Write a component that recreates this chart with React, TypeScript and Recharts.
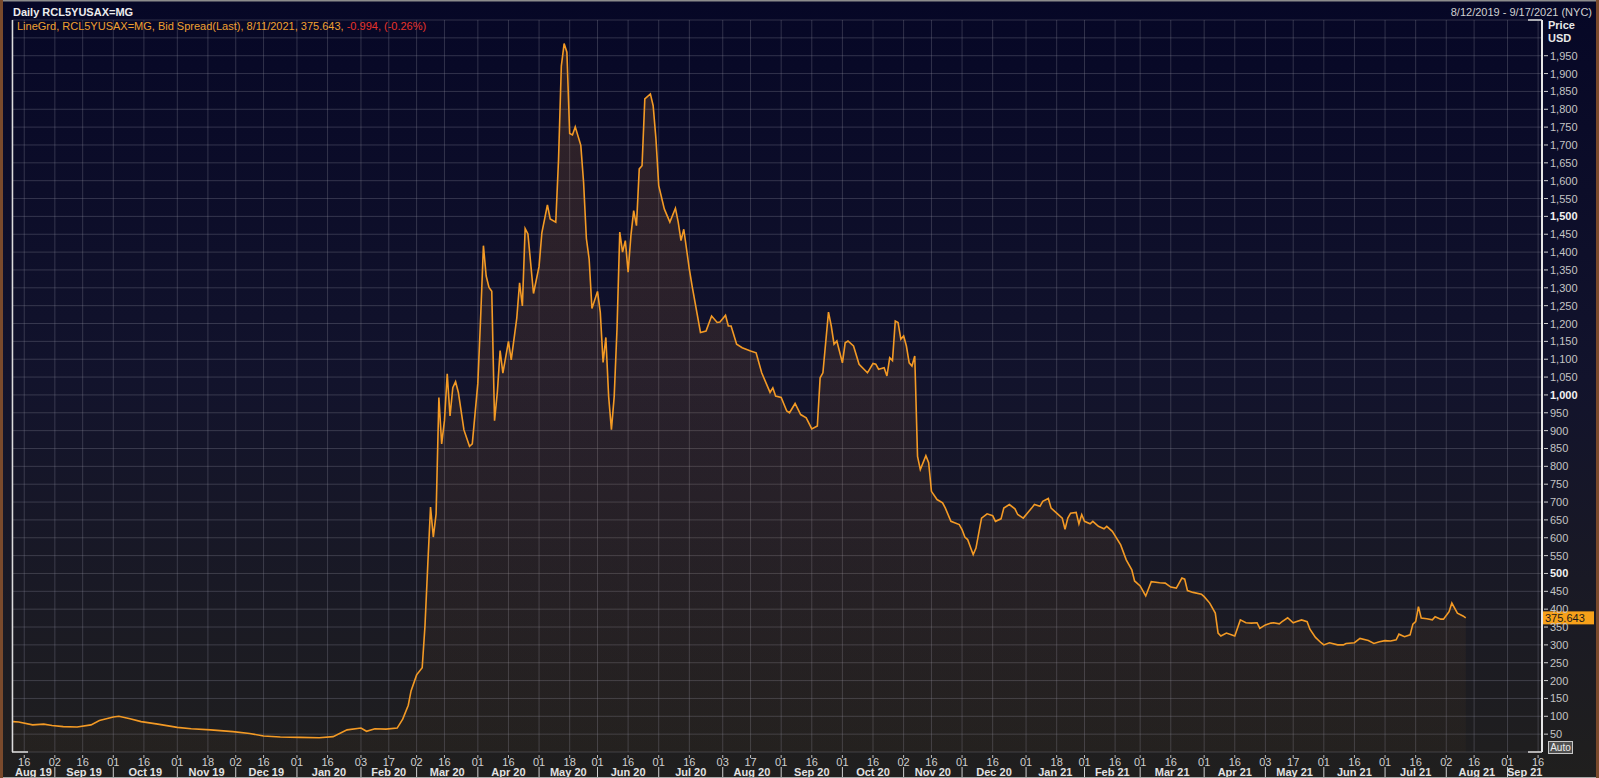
import React from "react";
import { ComposedChart, Area, XAxis, YAxis, CartesianGrid, ReferenceLine } from "recharts";

// RCL 5Y CDS bid spread, daily
const dates = [
  "2019-08-12", "2019-08-14", "2019-08-21", "2019-08-27", "2019-08-30", "2019-09-05", "2019-09-12", "2019-09-19",
  "2019-09-24", "2019-10-01", "2019-10-03", "2019-10-09", "2019-10-15", "2019-10-23", "2019-11-01", "2019-11-08",
  "2019-11-19", "2019-11-29", "2019-12-09", "2019-12-16", "2019-12-24", "2020-01-02", "2020-01-13", "2020-01-20",
  "2020-01-27", "2020-02-03", "2020-02-05", "2020-02-10", "2020-02-14", "2020-02-20", "2020-02-24", "2020-02-26",
  "2020-02-27", "2020-03-02", "2020-03-04", "2020-03-05", "2020-03-06", "2020-03-09", "2020-03-10", "2020-03-11",
  "2020-03-12", "2020-03-13", "2020-03-16", "2020-03-17", "2020-03-18", "2020-03-19", "2020-03-20", "2020-03-23",
  "2020-03-25", "2020-03-27", "2020-03-30", "2020-04-01", "2020-04-02", "2020-04-03", "2020-04-06", "2020-04-07",
  "2020-04-08", "2020-04-09", "2020-04-10", "2020-04-13", "2020-04-14", "2020-04-16", "2020-04-17", "2020-04-21",
  "2020-04-22", "2020-04-23", "2020-04-24", "2020-04-27", "2020-04-29", "2020-05-01", "2020-05-04", "2020-05-06",
  "2020-05-07", "2020-05-11", "2020-05-12", "2020-05-13", "2020-05-14", "2020-05-15", "2020-05-18", "2020-05-19",
  "2020-05-20", "2020-05-22", "2020-05-25", "2020-05-26", "2020-05-27", "2020-05-28", "2020-06-01", "2020-06-02",
  "2020-06-03", "2020-06-04", "2020-06-05", "2020-06-08", "2020-06-09", "2020-06-10", "2020-06-11", "2020-06-12",
  "2020-06-15", "2020-06-16", "2020-06-17", "2020-06-18", "2020-06-19", "2020-06-22", "2020-06-23", "2020-06-24",
  "2020-06-26", "2020-06-29", "2020-06-30", "2020-07-01", "2020-07-03", "2020-07-07", "2020-07-09", "2020-07-10",
  "2020-07-13", "2020-07-14", "2020-07-16", "2020-07-17", "2020-07-22", "2020-07-24", "2020-07-28", "2020-07-30",
  "2020-07-31", "2020-08-04", "2020-08-05", "2020-08-06", "2020-08-10", "2020-08-12", "2020-08-17", "2020-08-19",
  "2020-08-21", "2020-08-26", "2020-08-27", "2020-08-28", "2020-09-01", "2020-09-03", "2020-09-04", "2020-09-08",
  "2020-09-10", "2020-09-14", "2020-09-16", "2020-09-18", "2020-09-21", "2020-09-22", "2020-09-24", "2020-09-25",
  "2020-09-28", "2020-09-29", "2020-10-01", "2020-10-02", "2020-10-05", "2020-10-07", "2020-10-09", "2020-10-14",
  "2020-10-16", "2020-10-19", "2020-10-20", "2020-10-22", "2020-10-23", "2020-10-26", "2020-10-27", "2020-10-28",
  "2020-10-29", "2020-10-30", "2020-11-02", "2020-11-03", "2020-11-04", "2020-11-05", "2020-11-06", "2020-11-09",
  "2020-11-10", "2020-11-12", "2020-11-13", "2020-11-16", "2020-11-18", "2020-11-20", "2020-11-23", "2020-11-25",
  "2020-11-30", "2020-12-01", "2020-12-02", "2020-12-03", "2020-12-07", "2020-12-08", "2020-12-10", "2020-12-14",
  "2020-12-16", "2020-12-17", "2020-12-21", "2020-12-22", "2020-12-24", "2020-12-28", "2020-12-29", "2020-12-31",
  "2021-01-05", "2021-01-06", "2021-01-08", "2021-01-11", "2021-01-13", "2021-01-14", "2021-01-18", "2021-01-20",
  "2021-01-21", "2021-01-22", "2021-01-25", "2021-01-27", "2021-01-28", "2021-01-29", "2021-02-01", "2021-02-03",
  "2021-02-04", "2021-02-08", "2021-02-10", "2021-02-11", "2021-02-15", "2021-02-18", "2021-02-22", "2021-02-24",
  "2021-02-25", "2021-03-01", "2021-03-03", "2021-03-05", "2021-03-10", "2021-03-12", "2021-03-16", "2021-03-18",
  "2021-03-22", "2021-03-23", "2021-03-24", "2021-03-26", "2021-03-31", "2021-04-01", "2021-04-05", "2021-04-07",
  "2021-04-08", "2021-04-09", "2021-04-13", "2021-04-15", "2021-04-16", "2021-04-20", "2021-04-22", "2021-04-26",
  "2021-04-28", "2021-04-29", "2021-05-03", "2021-05-05", "2021-05-06", "2021-05-10", "2021-05-11", "2021-05-13",
  "2021-05-17", "2021-05-18", "2021-05-20", "2021-05-24", "2021-05-25", "2021-05-27", "2021-05-31", "2021-06-01",
  "2021-06-03", "2021-06-08", "2021-06-10", "2021-06-11", "2021-06-16", "2021-06-18", "2021-06-23", "2021-06-25",
  "2021-06-29", "2021-07-01", "2021-07-05", "2021-07-07", "2021-07-08", "2021-07-12", "2021-07-14", "2021-07-15",
  "2021-07-16", "2021-07-19", "2021-07-20", "2021-07-22", "2021-07-26", "2021-07-27", "2021-07-29", "2021-07-30",
  "2021-08-03", "2021-08-04", "2021-08-06", "2021-08-10", "2021-08-11",
];

const spread = [
  85, 84, 76, 78, 74, 71, 70, 76,
  88, 98, 100, 93, 85, 78, 69, 65,
  62, 57, 52, 45, 42, 41, 40, 43,
  62, 67, 58, 65, 64, 67, 92, 131,
  171, 216, 236, 353, 523, 686, 602, 667,
  993, 863, 928, 1059, 941, 1020, 1037, 1007,
  902, 856, 863, 1033, 1216, 1418, 1333, 1301,
  1290, 928, 1007, 1124, 1061, 1150, 1098, 1216,
  1314, 1249, 1466, 1451, 1284, 1360, 1454, 1532,
  1493, 1484, 1660, 1921, 1984, 1960, 1732, 1728,
  1751, 1699, 1595, 1438, 1380, 1242, 1290, 1231,
  1091, 1161, 996, 903, 996, 1184, 1456, 1400,
  1432, 1344, 1446, 1516, 1474, 1633, 1642, 1829,
  1843, 1810, 1717, 1586, 1521, 1484, 1523, 1484,
  1432, 1464, 1352, 1305, 1175, 1179, 1221, 1203,
  1204, 1223, 1193, 1193, 1142, 1132, 1123, 1118,
  1062, 1007, 1020, 997, 993, 955, 950, 976,
  945, 936, 905, 913, 1048, 1062, 1232, 1193,
  1142, 1151, 1090, 1146, 1151, 1137, 1086, 1062,
  1088, 1086, 1072, 1076, 1053, 1104, 1096, 1207,
  1203, 1156, 1165, 1137, 1090, 1081, 1109, 828,
  791, 830, 810, 730, 707, 698, 683, 646,
  637, 623, 602, 595, 553, 571, 655, 667,
  662, 646, 653, 683, 693, 681, 665, 655,
  683, 693, 688, 702, 710, 683, 669, 655,
  624, 655, 669, 671, 639, 665, 646, 639,
  646, 632, 625, 632, 618, 580, 538, 510,
  479, 465, 437, 477, 474, 473, 462, 459,
  487, 484, 452, 447, 442, 435, 417, 389,
  333, 325, 333, 328, 325, 370, 362, 361,
  362, 346, 356, 361, 362, 359, 365, 376,
  362, 365, 370, 365, 344, 321, 306, 300,
  306, 300, 300, 304, 306, 318, 312, 304,
  309, 312, 311, 314, 330, 323, 328, 358,
  365, 407, 375, 373, 370, 379, 372, 372,
  393, 417, 389, 381, 375.643,
];

const dayTicks = [
  "2019-08-16", "2019-09-02", "2019-09-16", "2019-10-01", "2019-10-16", "2019-11-01", "2019-11-18", "2019-12-02",
  "2019-12-16", "2020-01-01", "2020-01-16", "2020-02-03", "2020-02-17", "2020-03-02", "2020-03-16", "2020-04-01",
  "2020-04-16", "2020-05-01", "2020-05-18", "2020-06-01", "2020-06-16", "2020-07-01", "2020-07-16", "2020-08-03",
  "2020-08-17", "2020-09-01", "2020-09-16", "2020-10-01", "2020-10-16", "2020-11-02", "2020-11-16", "2020-12-01",
  "2020-12-16", "2021-01-01", "2021-01-18", "2021-02-01", "2021-02-16", "2021-03-01", "2021-03-16", "2021-04-01",
  "2021-04-16", "2021-05-03", "2021-05-17", "2021-06-01", "2021-06-16", "2021-07-01", "2021-07-16", "2021-08-02",
  "2021-08-16", "2021-09-01", "2021-09-16",
];

const monthStarts = [
  "2019-08-01", "2019-09-01", "2019-10-01", "2019-11-01", "2019-12-01", "2020-01-01", "2020-02-01", "2020-03-01",
  "2020-04-01", "2020-05-01", "2020-06-01", "2020-07-01", "2020-08-01", "2020-09-01", "2020-10-01", "2020-11-01",
  "2020-12-01", "2021-01-01", "2021-02-01", "2021-03-01", "2021-04-01", "2021-05-01", "2021-06-01", "2021-07-01",
  "2021-08-01", "2021-09-01", "2021-10-01",
];

const monthLabels = [
  "Aug 19", "Sep 19", "Oct 19", "Nov 19", "Dec 19", "Jan 20", "Feb 20", "Mar 20",
  "Apr 20", "May 20", "Jun 20", "Jul 20", "Aug 20", "Sep 20", "Oct 20", "Nov 20",
  "Dec 20", "Jan 21", "Feb 21", "Mar 21", "Apr 21", "May 21", "Jun 21", "Jul 21",
  "Aug 21", "Sep 21",
];

const firstDay = "2019-08-12";
const lastDay = "2021-09-17";
const lastValue = 375.643;
const change = "-0.994, (-0.26%)";

const FONT = "'Liberation Sans Narrow', 'Liberation Sans', Arial, sans-serif";

// business-day index (weekends skipped, like the terminal's time axis)
const BASE = Date.UTC(2019, 7, 12);
function bd(iso: string) {
  const [y, m, d] = iso.split("-").map(Number);
  const days = Math.round((Date.UTC(y, m - 1, d) - BASE) / 86400000);
  const w = Math.floor(days / 7);
  const r = days - w * 7;
  return w * 5 + Math.min(r, 5);
}

const data = dates.map((d, i) => ({ n: bd(d), v: spread[i] }));
const xMin = bd(firstDay) - 0.4;
const xMax = bd(lastDay) + 0.4;

const dayTickValues = dayTicks.map(bd);
const dayLabelByValue = new Map(dayTicks.map((d) => [bd(d), d.slice(8)]));

type MTick = { value: number; label?: string };
const monthTicks: MTick[] = [];
monthLabels.forEach((label, i) => {
  const s = Math.max(bd(monthStarts[i]), xMin);
  const e = Math.min(bd(monthStarts[i + 1]), xMax);
  if (i > 0) monthTicks.push({ value: bd(monthStarts[i]) });
  monthTicks.push({ value: (s + e) / 2, label });
});
const monthByValue = new Map(monthTicks.map((t) => [t.value, t]));

const yTicks = Array.from({ length: 42 }, (_, i) => i * 50);

function DayTick(props: any) {
  const { x, y, payload } = props;
  return (
    <g>
      <line x1={x} x2={x} y1={y + 1} y2={y + 4} stroke="#bdbdbd" />
      <text x={x} y={y + 12} textAnchor="middle" fill="#cfcfcf" fontSize={11} fontFamily={FONT}>
        {dayLabelByValue.get(payload.value)}
      </text>
    </g>
  );
}

function MonthTick(props: any) {
  const { x, y, payload } = props;
  const t = monthByValue.get(payload.value);
  if (!t) return <g />;
  if (!t.label) return <line x1={x} x2={x} y1={y} y2={y + 11} stroke="#cfcfcf" />;
  return (
    <text x={x} y={y + 9} textAnchor="middle" fill="#e2e2e2" fontSize={11} fontWeight={700} fontFamily={FONT}>
      {t.label}
    </text>
  );
}

function PriceTick(props: any) {
  const { x, y, payload } = props;
  const v = payload.value;
  if (v < 50 || v > 1950) return <g />;
  const major = v % 500 === 0;
  return (
    <g>
      <line x1={x} x2={x + 4} y1={y} y2={y} stroke="#cfcfcf" />
      <text
        x={x + 6}
        y={y + 4}
        fill={major ? "#f2f2f2" : "#c4c4c4"}
        fontWeight={major ? 700 : 400}
        fontSize={11}
        fontFamily={FONT}
      >
        {v.toLocaleString("en-US")}
      </text>
    </g>
  );
}

function PriceTag(props: any) {
  const vb = props.viewBox || {};
  const x = vb.x + vb.width + 1;
  const y = vb.y;
  return (
    <g>
      <rect x={x} y={y - 6.5} width={51} height={13} fill="#f7a11a" />
      <text x={x + 2} y={y + 4} fill="#1a1a1a" fontSize={11} fontFamily={FONT}>
        {lastValue.toFixed(3)}
      </text>
    </g>
  );
}

export default function App() {
  const W = 1599;
  const H = 778;
  return (
    <div
      style={{
        position: "absolute",
        left: 0,
        top: 0,
        width: W,
        height: H,
        overflow: "hidden",
        background: "linear-gradient(to bottom, #060726 0px, #12132c 380px, #201f1e 778px)",
      }}
    >
      <ComposedChart width={W} height={H} data={data} margin={{ top: 20, right: 0, bottom: 0, left: 12 }}>
        <defs>
          <linearGradient id="fillGrad" x1="0" y1="0" x2="0" y2="1">
            <stop offset="0%" stopColor="#f59a28" stopOpacity={0.28} />
            <stop offset="100%" stopColor="#f59a28" stopOpacity={0.04} />
          </linearGradient>
        </defs>
        <CartesianGrid stroke="#8a8a98" strokeOpacity={0.32} />
        <XAxis
          dataKey="n"
          type="number"
          domain={[xMin, xMax]}
          ticks={dayTickValues}
          interval={0}
          allowDataOverflow
          height={13}
          axisLine={false}
          tickLine={false}
          tickSize={0}
          tick={<DayTick />}
        />
        <XAxis
          xAxisId="m"
          dataKey="n"
          type="number"
          domain={[xMin, xMax]}
          ticks={monthTicks.map((t) => t.value)}
          interval={0}
          allowDataOverflow
          height={13}
          axisLine={false}
          tickLine={false}
          tickSize={0}
          tick={<MonthTick />}
        />
        <YAxis
          orientation="right"
          type="number"
          domain={[0, 2050]}
          ticks={yTicks}
          interval={0}
          width={57}
          axisLine={{ stroke: "#e6e6e6", strokeWidth: 2 }}
          tickLine={false}
          tickSize={0}
          tick={<PriceTick />}
        />
        <Area
          type="linear"
          dataKey="v"
          stroke="#f39a25"
          strokeWidth={1.6}
          fill="url(#fillGrad)"
          dot={false}
          activeDot={false}
          isAnimationActive={false}
        />
        <ReferenceLine y={lastValue} stroke="none" label={(p: any) => <PriceTag {...p} />} />
      </ComposedChart>

      <svg
        width={W}
        height={H}
        style={{ position: "absolute", left: 0, top: 0, pointerEvents: "none" }}
        fontFamily={FONT}
      >
        <rect x={0} y={0} width={W} height={1.5} fill="#8c8c8c" />
        <rect x={0} y={H - 1} width={W} height={1} fill="#a8a8a8" />
        <rect x={0} y={0} width={3} height={H} fill="#7a4a2c" />
        <rect x={W - 3} y={0} width={3} height={H} fill="#7a4a2c" />

        <line x1={12.5} x2={12.5} y1={20} y2={752} stroke="#dcdcdc" strokeWidth={1.5} />
        <line x1={12} x2={28} y1={752} y2={752} stroke="#dcdcdc" strokeWidth={1.5} />
        <line x1={1528} x2={1542} y1={20} y2={20} stroke="#dcdcdc" strokeWidth={1.5} />
        <line x1={1528} x2={1542} y1={752} y2={752} stroke="#dcdcdc" strokeWidth={1.5} />

        <text x={13} y={16} fill="#ececec" fontSize={11} fontWeight={700}>
          Daily RCL5YUSAX=MG
        </text>
        <text x={17} y={30} fontSize={11} fill="#f0a030">
          LineGrd, RCL5YUSAX=MG, Bid Spread(Last), 8/11/2021, {lastValue.toFixed(3)},{" "}
          <tspan fill="#e8332a">{change}</tspan>
        </text>
        <text x={1592} y={16} fill="#d0d0d0" fontSize={11} textAnchor="end">
          8/12/2019 - 9/17/2021 (NYC)
        </text>
        <text x={1548} y={29} fill="#e8e8e8" fontSize={11} fontWeight={700}>
          Price
        </text>
        <text x={1548} y={42} fill="#e8e8e8" fontSize={11} fontWeight={700}>
          USD
        </text>

        <rect x={1548.5} y={741.5} width={24} height={12} fill="#505050" stroke="#c8c8c8" />
        <text x={1560.5} y={751} fill="#ececec" fontSize={10} textAnchor="middle">
          Auto
        </text>
      </svg>
    </div>
  );
}
